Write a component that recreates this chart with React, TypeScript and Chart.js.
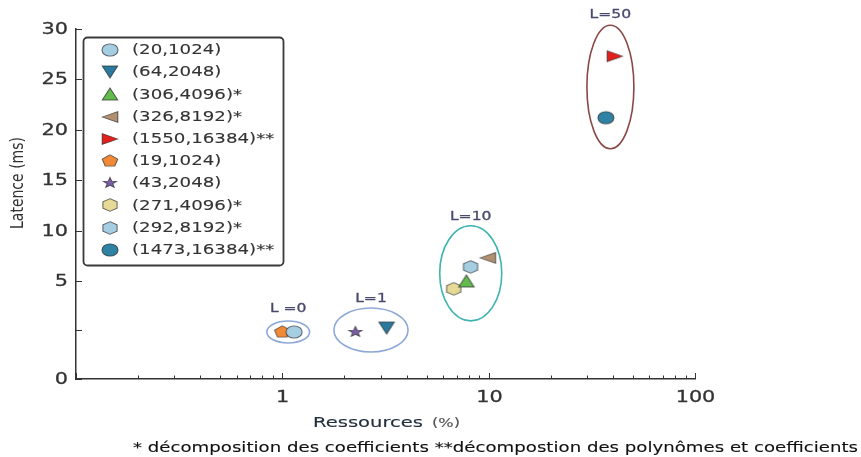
import React, { useEffect, useRef } from 'react';
import { Chart, registerables, LinearScale } from 'chart.js';

// ---------- data ----------
const SERIES_LABELS = [
  '(20,1024)',
  '(64,2048)',
  '(306,4096)*',
  '(326,8192)*',
  '(1550,16384)**',
  '(19,1024)',
  '(43,2048)',
  '(271,4096)*',
  '(292,8192)*',
  '(1473,16384)**',
];
const RESOURCES = [1.14, 3.2, 7.8, 9.9, 40.9, 1.0, 2.26, 6.77, 8.17, 37.0];
const LATENCY = [2.4, 2.6, 5.0, 7.3, 27.3, 2.4, 2.4, 4.6, 6.4, 21.2];
const MARKERS = ['circle', 'triDown', 'triUp', 'triLeft', 'triRight', 'pentagon', 'star', 'hexagon', 'hexagon', 'circle'];
const COLORS = ['#a6cee3', '#2a7aa0', '#63bb4e', '#b09070', '#e3201c', '#f08a36', '#7b5ea8', '#e6da96', '#a6cee3', '#2e82a3'];

const GROUP_LABELS = ['L =0', 'L=1', 'L=10', 'L=50'];
const GROUP_MEMBERS = [[0, 5], [1, 6], [2, 3, 7, 8], [4, 9]];
const GROUP_COLORS = ['#8ea8d8', '#8ea8d8', '#3fb4b0', '#8a4848'];

const Y_TICKS = [0, 2.5, 5, 10, 15, 20, 25, 30];
const Y_TICK_LABELS = ['0', '', '5', '10', '15', '20', '25', '30'];
const X_MAJOR_TICKS = [0.1, 1, 10, 100];
const X_TICK_LABELS = ['', '1', '10', '100'];

const X_TITLE = 'Ressources';
const X_TITLE_UNIT = '(%)';
const Y_TITLE = 'Latence (ms)';
const FOOTNOTE = '* décomposition des coefficients **décompostion des polynômes et coefficients';

// ---------- style / layout ----------
const SX = 1.3; // horizontal glyph stretch of the reference
const FONT = '"DejaVu Sans", Verdana, sans-serif';
const AXIS_COLOR = '#333333';
const TEXT_COLOR = '#333333';
const Y_BREAK = 5;
const Y_BREAK_SHARE = 0.28;
const GROUP_PAD = [[15.5, 11, 12], [21.5, 20, 9], [14, 32, 9], [19, 31, 10]];

class PiecewiseScale extends LinearScale {
  static id = 'piecewise';
  static defaults = {};
  toDecimal(v: number) {
    const min = this.min, max = this.max;
    if (v <= Y_BREAK) return ((v - min) / (Y_BREAK - min)) * Y_BREAK_SHARE;
    return Y_BREAK_SHARE + ((v - Y_BREAK) / (max - Y_BREAK)) * (1 - Y_BREAK_SHARE);
  }
  getPixelForValue(value: number) {
    if (value === null || value === undefined || isNaN(value)) return NaN;
    return this.getPixelForDecimal(this.toDecimal(value));
  }
  getValueForPixel(pixel: number) {
    const d = this.getDecimalForPixel(pixel);
    if (d <= Y_BREAK_SHARE) return this.min + (d / Y_BREAK_SHARE) * (Y_BREAK - this.min);
    return Y_BREAK + ((d - Y_BREAK_SHARE) / (1 - Y_BREAK_SHARE)) * (this.max - Y_BREAK);
  }
}

Chart.register(...registerables, PiecewiseScale);

function polygon(ctx: CanvasRenderingContext2D, n: number, r: number, rot: number) {
  for (let k = 0; k < n; k++) {
    const a = rot + (k * 2 * Math.PI) / n;
    const x = r * Math.cos(a), y = r * Math.sin(a);
    if (k === 0) ctx.moveTo(x, y); else ctx.lineTo(x, y);
  }
  ctx.closePath();
}

function makeMarker(shape: string, fill: string): HTMLCanvasElement {
  const R = 7;
  let w = Math.ceil(2 * R * SX + 4); if (w % 2) w++;
  let h = Math.ceil(2 * R + 4); if (h % 2) h++;
  const c = document.createElement('canvas');
  c.width = w; c.height = h;
  const ctx = c.getContext('2d')!;
  ctx.translate(w / 2, h / 2);
  ctx.scale(SX, 1);
  ctx.beginPath();
  const s = 6;
  switch (shape) {
    case 'circle': ctx.arc(0, 0, 6.2, 0, Math.PI * 2); break;
    case 'triDown': ctx.moveTo(0, s); ctx.lineTo(-s, -s); ctx.lineTo(s, -s); ctx.closePath(); break;
    case 'triUp': ctx.moveTo(0, -s); ctx.lineTo(-s, s); ctx.lineTo(s, s); ctx.closePath(); break;
    case 'triLeft': ctx.moveTo(-s, 0); ctx.lineTo(s, -s * 0.9); ctx.lineTo(s, s * 0.9); ctx.closePath(); break;
    case 'triRight': ctx.moveTo(s, 0); ctx.lineTo(-s, -s * 0.9); ctx.lineTo(-s, s * 0.9); ctx.closePath(); break;
    case 'pentagon': polygon(ctx, 5, 6.3, -Math.PI / 2); break;
    case 'hexagon': polygon(ctx, 6, 6.3, -Math.PI / 2); break;
    case 'star': {
      const ro = 5.5, ri = ro * 0.42;
      for (let k = 0; k < 10; k++) {
        const a = -Math.PI / 2 + (k * Math.PI) / 5;
        const r = k % 2 ? ri : ro;
        const x = r * Math.cos(a), y = r * Math.sin(a);
        if (k === 0) ctx.moveTo(x, y); else ctx.lineTo(x, y);
      }
      ctx.closePath();
      break;
    }
  }
  ctx.fillStyle = fill;
  ctx.fill();
  ctx.lineWidth = 0.8;
  ctx.strokeStyle = 'rgba(40,40,40,0.7)';
  ctx.stroke();
  return c;
}

function drawText(ctx: CanvasRenderingContext2D, text: string, x: number, y: number, font: string, color: string, align: CanvasTextAlign = 'left', sx = SX, weight = 0.2) {
  ctx.save();
  ctx.translate(x, y);
  ctx.scale(sx, 1);
  ctx.font = font;
  ctx.fillStyle = color;
  ctx.textAlign = align;
  ctx.textBaseline = 'middle';
  ctx.fillText(text, 0, 0);
  if (weight > 0) {
    ctx.lineWidth = weight;
    ctx.strokeStyle = color;
    ctx.lineJoin = 'round';
    ctx.strokeText(text, 0, 0);
  }
  ctx.restore();
}

function drawFitted(ctx: CanvasRenderingContext2D, text: string, left: number, width: number, y: number, font: string, color: string, weight = 0.2) {
  ctx.save();
  ctx.font = font;
  const w = ctx.measureText(text).width;
  ctx.restore();
  drawText(ctx, text, left, y, font, color, 'left', width / w, weight);
}

function xMinorTicks(): number[] {
  const out: number[] = [];
  [0.1, 1, 10].forEach((d) => {
    for (let m = 2; m <= 9; m++) out.push(parseFloat((m * d).toPrecision(3)));
  });
  return out;
}

export default function App() {
  const ref = useRef<HTMLCanvasElement | null>(null);

  useEffect(() => {
    document.body.style.margin = '0';
    const canvas = ref.current;
    if (!canvas) return;
    const markerImgs = MARKERS.map((m, i) => makeMarker(m, COLORS[i]));

    const decor = {
      id: 'decor',
      beforeDatasetsDraw(chart: any) {
        const ctx = chart.ctx as CanvasRenderingContext2D;
        const xs = chart.scales.x, ys = chart.scales.y;
        GROUP_MEMBERS.forEach((members, g) => {
          const px = members.map((i) => xs.getPixelForValue(RESOURCES[i]));
          const py = members.map((i) => ys.getPixelForValue(LATENCY[i]));
          const x0 = Math.min(...px), x1 = Math.max(...px);
          const y0 = Math.min(...py), y1 = Math.max(...py);
          const cx = (x0 + x1) / 2, cy = (y0 + y1) / 2;
          const rx = (x1 - x0) / 2 + GROUP_PAD[g][0];
          const ry = (y1 - y0) / 2 + GROUP_PAD[g][1];
          ctx.save();
          ctx.beginPath();
          ctx.ellipse(cx, cy, rx, ry, 0, 0, Math.PI * 2);
          ctx.strokeStyle = GROUP_COLORS[g];
          ctx.lineWidth = 1.6;
          ctx.stroke();
          ctx.restore();
          drawText(ctx, GROUP_LABELS[g], cx, cy - ry - GROUP_PAD[g][2], `12px ${FONT}`, '#4a4a6e', 'center', SX, 0.3);
        });
      },
      afterDraw(chart: any) {
        const ctx = chart.ctx as CanvasRenderingContext2D;
        const { left, bottom } = chart.chartArea;
        const xs = chart.scales.x, ys = chart.scales.y;
        ctx.save();
        ctx.strokeStyle = AXIS_COLOR;
        ctx.lineWidth = 1;
        // y ticks (inward) + labels
        Y_TICKS.forEach((v, i) => {
          const py = Math.round(ys.getPixelForValue(v)) + 0.5;
          ctx.beginPath(); ctx.moveTo(left, py); ctx.lineTo(left + 6, py); ctx.stroke();
          if (Y_TICK_LABELS[i]) drawText(ctx, Y_TICK_LABELS[i], left - 8, py, `16px ${FONT}`, TEXT_COLOR, 'right', SX, 0.3);
        });
        // x ticks (inward) + labels
        xMinorTicks().forEach((v) => {
          const px = Math.round(xs.getPixelForValue(v)) + 0.5;
          ctx.beginPath(); ctx.moveTo(px, bottom); ctx.lineTo(px, bottom - 3.5); ctx.stroke();
        });
        X_MAJOR_TICKS.forEach((v, i) => {
          const px = Math.round(xs.getPixelForValue(v)) + 0.5;
          ctx.beginPath(); ctx.moveTo(px, bottom); ctx.lineTo(px, bottom - 6); ctx.stroke();
          if (X_TICK_LABELS[i]) drawText(ctx, X_TICK_LABELS[i], px, bottom + 19, `16px ${FONT}`, TEXT_COLOR, 'center', SX, 0.3);
        });
        ctx.restore();

        // axis titles
        drawFitted(ctx, X_TITLE, 313, 110, 423, `14.5px ${FONT}`, '#22303e', 0.15);
        drawFitted(ctx, X_TITLE_UNIT, 432, 28, 424, `12px ${FONT}`, '#555555', 0.15);
        ctx.save();
        ctx.translate(18, 183);
        ctx.rotate(-Math.PI / 2);
        ctx.scale(1, SX);
        ctx.font = `14px ${FONT}`;
        ctx.fillStyle = TEXT_COLOR;
        ctx.textAlign = 'center';
        ctx.textBaseline = 'middle';
        ctx.fillText(Y_TITLE, 0, 0);
        ctx.restore();

        // footnote
        drawFitted(ctx, FOOTNOTE, 133, 725, 448, `14px ${FONT}`, '#111111', 0.1);

        // legend
        ctx.save();
        ctx.beginPath();
        ctx.roundRect(83.5, 37.5, 200, 228, 4);
        ctx.fillStyle = '#ffffff';
        ctx.fill();
        ctx.lineWidth = 1.8;
        ctx.strokeStyle = '#3a3a3a';
        ctx.stroke();
        ctx.restore();
        SERIES_LABELS.forEach((lab, i) => {
          const ry = 50 + i * 22.2;
          const img = markerImgs[i];
          ctx.drawImage(img, Math.round(110 - img.width / 2), Math.round(ry - img.height / 2));
          drawText(ctx, lab, 132, ry + 0.5, `14px ${FONT}`, TEXT_COLOR, 'left', SX, 0.1);
        });
      },
    };

    const chart = new Chart(canvas, {
      type: 'scatter',
      data: {
        datasets: SERIES_LABELS.map((label, i) => ({
          label,
          data: [{ x: RESOURCES[i], y: LATENCY[i] }],
          pointStyle: markerImgs[i] as any,
          backgroundColor: COLORS[i],
          borderColor: COLORS[i],
          pointRadius: 6,
          pointHoverRadius: 6,
        })),
      },
      options: {
        animation: false,
        responsive: false,
        layout: { padding: { left: 0, top: 29, right: 166, bottom: 0 } },
        plugins: { legend: { display: false }, tooltip: { enabled: false } },
        events: [],
        scales: {
          x: {
            type: 'logarithmic',
            position: 'bottom',
            min: 0.1,
            max: 100,
            grid: { display: false, drawTicks: false },
            border: { display: true, color: AXIS_COLOR, width: 1.5 },
            ticks: { display: false },
            afterFit: (s: any) => { s.height = 78; },
          },
          y: {
            type: 'piecewise' as any,
            position: 'left',
            min: 0,
            max: 30,
            grid: { display: false, drawTicks: false },
            border: { display: true, color: AXIS_COLOR, width: 1.5 },
            ticks: { display: false },
            afterBuildTicks: (s: any) => { s.ticks = Y_TICKS.map((v) => ({ value: v })); },
            afterFit: (s: any) => { s.width = 76; },
          },
        },
      } as any,
      plugins: [decor],
    });
    return () => chart.destroy();
  }, []);

  return (
    <div style={{ width: 861, height: 457 }}>
      <canvas ref={ref} width={861} height={457} />
    </div>
  );
}
